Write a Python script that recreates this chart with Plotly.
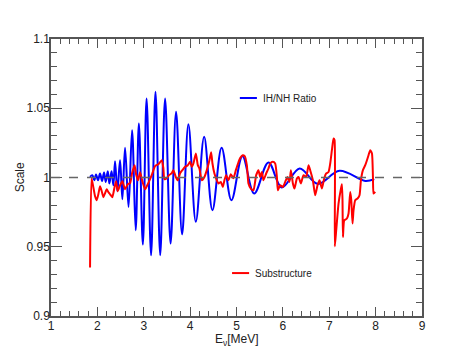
import plotly.graph_objects as go

# IH/NH ratio (blue): peaks and troughs
ratio_e = [1.842, 1.891, 1.934, 1.971, 2.014, 2.057, 2.101, 2.144, 2.180, 2.224,
           2.258, 2.306, 2.344, 2.381, 2.431, 2.489, 2.539, 2.597, 2.672, 2.748,
           2.826, 2.895, 2.981, 3.061, 3.158, 3.253, 3.355, 3.460, 3.579, 3.697,
           3.827, 3.963, 4.123, 4.302, 4.481, 4.679, 4.891, 5.128, 5.381, 5.689,
           5.978, 6.362, 6.751, 7.221, 7.776, 7.970]
ratio_val = [1.0004, 1.0017, 0.9980, 1.0022, 0.9980, 1.0029, 0.9975, 1.0036, 0.9968, 1.0046,
             0.9957, 1.0046, 0.9944, 1.0118, 0.9901, 1.0125, 0.9843, 1.0214, 0.9787, 1.0342,
             0.9619, 1.0390, 0.9516, 1.0571, 0.9438, 1.0619, 0.9438, 1.0571, 0.9523, 1.0474,
             0.9590, 1.0385, 0.9680, 1.0294, 0.9764, 1.0215, 0.9836, 1.0154, 0.9884, 1.0108,
             0.9928, 1.0065, 0.9954, 1.0048, 0.9975, 0.9988]

# substructure (red)
sub_e = [1.842, 1.874, 1.913, 1.950, 1.986, 2.021, 2.057, 2.094, 2.129, 2.165,
         2.202, 2.237, 2.273, 2.323, 2.366, 2.403, 2.439, 2.489, 2.539, 2.597,
         2.655, 2.705, 2.748, 2.802, 2.834, 2.877, 2.921, 2.970, 3.028, 3.087,
         3.136, 3.180, 3.244, 3.315, 3.389, 3.423, 3.445, 3.497, 3.546, 3.605,
         3.639, 3.691, 3.734, 3.784, 3.833, 3.892, 3.950, 4.000, 4.036, 4.071,
         4.123, 4.166, 4.200, 4.252, 4.308, 4.360, 4.416, 4.453, 4.481, 4.524,
         4.576, 4.610, 4.662, 4.705, 4.740, 4.776, 4.826, 4.878, 4.934, 4.986,
         5.035, 5.079, 5.133, 5.176, 5.223, 5.258, 5.309, 5.366, 5.424, 5.474,
         5.510, 5.547, 5.581, 5.640, 5.689, 5.726, 5.784, 5.834, 5.871, 5.892,
         5.942, 6.000, 6.050, 6.099, 6.142, 6.173, 6.216, 6.250, 6.302, 6.337,
         6.388, 6.445, 6.503, 6.553, 6.589, 6.647, 6.697, 6.747, 6.790, 6.842,
         6.891, 6.934, 6.984, 7.021, 7.057, 7.092, 7.114, 7.120, 7.150, 7.200,
         7.252, 7.273, 7.286, 7.295, 7.323, 7.381, 7.416, 7.452, 7.474, 7.502,
         7.524, 7.560, 7.610, 7.653, 7.683, 7.726, 7.776, 7.813, 7.847, 7.884,
         7.921, 7.942, 7.955, 7.992]
sub_val = [0.9351, 0.9995, 0.9930, 0.9865, 0.9836, 0.9879, 0.9937, 0.9901, 0.9858, 0.9886,
           0.9915, 0.9894, 0.9879, 0.9858, 0.9923, 0.9973, 0.9901, 0.9944, 0.9973, 0.9915,
           0.9952, 0.9959, 1.0031, 1.0089, 1.0024, 0.9980, 1.0038, 0.9973, 0.9915, 0.9952,
           0.9988, 1.0024, 1.0082, 1.0096, 1.0125, 1.0067, 0.9988, 0.9995, 1.0017, 1.0031,
           1.0053, 1.0004, 0.9980, 1.0031, 1.0053, 1.0077, 1.0089, 1.0113, 1.0077, 1.0101,
           1.0174, 1.0089, 1.0065, 0.9980, 1.0004, 1.0053, 1.0125, 1.0183, 1.0103, 1.0029,
           0.9980, 0.9957, 0.9968, 0.9932, 0.9980, 1.0017, 0.9980, 1.0024, 0.9995, 1.0053,
           1.0103, 1.0140, 1.0161, 1.0154, 1.0089, 0.9957, 0.9920, 0.9908, 1.0017, 1.0053,
           1.0004, 1.0040, 0.9980, 1.0029, 1.0065, 1.0101, 1.0113, 1.0101, 1.0004, 0.9908,
           0.9944, 0.9932, 0.9968, 1.0004, 0.9968, 1.0053, 0.9957, 0.9920, 0.9993, 1.0004,
           0.9957, 1.0017, 1.0004, 1.0089, 1.0053, 0.9980, 0.9872, 0.9944, 0.9980, 0.9920,
           0.9993, 1.0029, 1.0040, 1.0101, 1.0197, 1.0282, 1.0270, 0.9503, 0.9619, 0.9812,
           0.9920, 0.9952, 0.9836, 0.9570, 0.9691, 0.9704, 0.9740, 0.9896, 0.9840, 0.9667,
           0.9764, 0.9836, 0.9848, 0.9872, 0.9980, 1.0053, 1.0089, 1.0125, 1.0161, 1.0197,
           1.0174, 1.0004, 0.9884, 0.9896]

x_ticks = [1, 2, 3, 4, 5, 6, 7, 8, 9]
y_ticks = [0.9, 0.95, 1, 1.05, 1.1]
y_text = ['0.9', '0.95', '1', '1.05', '1.1']

axcol = '#555555'
fnt = 'Liberation Sans, Arial, sans-serif'

fig = go.Figure()
fig.add_hline(y=1, line=dict(color='#666666', width=1.3, dash='dash'))

fig.add_trace(go.Scatter(x=ratio_e, y=ratio_val, mode='lines', name='IH/NH Ratio',
                         line=dict(color='#0000ff', width=2, shape='spline', smoothing=1.0),
                         showlegend=False))
fig.add_trace(go.Scatter(x=sub_e, y=sub_val, mode='lines', name='Substructure',
                         line=dict(color='#ff0000', width=2, shape='spline', smoothing=0.5),
                         showlegend=False))

# hand-placed legend entries, ROOT style (paper coords)
legend_items = [('IH/NH Ratio', '#0000ff', 0.509, 0.787),
                ('Substructure', '#ff0000', 0.488, 0.155)]
for label, col, x0, yy in legend_items:
    fig.add_shape(type='line', xref='paper', yref='paper',
                  x0=x0, x1=x0 + 0.046, y0=yy, y1=yy, line=dict(color=col, width=2))
    fig.add_annotation(xref='paper', yref='paper', x=x0 + 0.056, y=yy, text=label,
                       showarrow=False, xanchor='left', yanchor='middle',
                       font=dict(size=10, color='#222'))

# axis titles
fig.add_annotation(xref='paper', yref='paper', x=0.5, y=-0.085, text='E<sub>ν</sub>[MeV]',
                   showarrow=False, xanchor='center', yanchor='middle',
                   font=dict(size=12, color='#222'))
fig.add_annotation(xref='paper', yref='paper', x=-0.084, y=0.5, text='Scale',
                   showarrow=False, xanchor='center', yanchor='middle', textangle=-90,
                   font=dict(size=12, color='#222'))

# the page body adds an 8px offset, so the figure is a bit smaller than the window
fig.update_layout(
    width=465, height=346,
    margin=dict(l=43, r=51, t=31, b=38, autoexpand=False),
    plot_bgcolor='white', paper_bgcolor='white',
    font=dict(family=fnt, color='#222', size=12),
    xaxis=dict(
        range=[1, 9], tickmode='array', tickvals=x_ticks,
        ticks='inside', ticklen=9, tickwidth=1, tickcolor=axcol,
        showline=True, linecolor=axcol, linewidth=1.5, mirror='ticks',
        showgrid=False, zeroline=False, automargin=False,
        minor=dict(tick0=1, dtick=0.2, ticks='inside', ticklen=5, tickcolor=axcol),
        tickfont=dict(size=12), ticklabelstandoff=-2,
    ),
    yaxis=dict(
        range=[0.9, 1.1], tickmode='array', tickvals=y_ticks, ticktext=y_text,
        ticks='inside', ticklen=11, tickwidth=1, tickcolor=axcol,
        showline=True, linecolor=axcol, linewidth=1.5, mirror='ticks',
        showgrid=False, zeroline=False, automargin=False,
        minor=dict(tick0=0.9, dtick=0.01, ticks='inside', ticklen=6, tickcolor=axcol),
        tickfont=dict(size=12), ticklabelstandoff=-3,
    ),
)

fig.write_html("out.html")
